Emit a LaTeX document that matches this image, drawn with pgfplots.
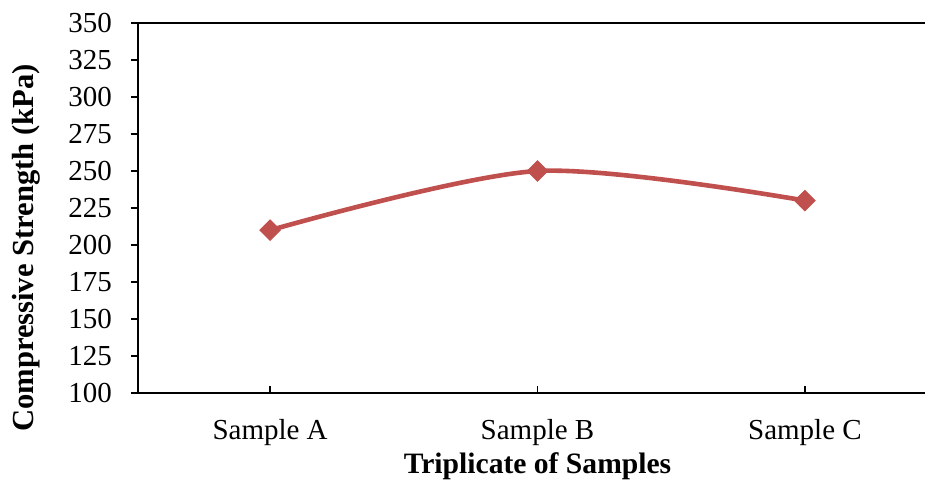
\documentclass[border=0pt]{standalone}
\usepackage{fontspec}
\setmainfont{Liberation Serif}
\usepackage{pgfplots}
\pgfplotsset{compat=1.18}
\definecolor{serieRed}{HTML}{C0504D}

\begin{document}
\fontsize{14.5}{17}\selectfont
\begin{tikzpicture}
\path[use as bounding box] (-69pt,-44pt) rectangle (393.5pt,196.5pt);
\begin{axis}[
  at={(0,0)}, anchor=south west,
  scale only axis,
  width=393.5pt, height=185pt,
  xmin=-0.494, xmax=2.449,
  ymin=100, ymax=350,
  ytick={100,125,...,350},
  xtick={0,1,2},
  xticklabels={Sample A,Sample B,Sample C},
  axis x line*=bottom,
  axis y line*=left,
  axis line style={line width=1.2pt, -},
  xtick align=inside,
  ytick align=outside,
  major tick length=3.5pt,
  tick style={line width=0.8pt, black},
  /pgf/number format/assume math mode=true,
  yticklabel style={font=\fontsize{14.5}{17}\selectfont, anchor=east, xshift=-4.5pt},
  xticklabel style={font=\fontsize{14.5}{17}\selectfont, anchor=base, yshift=-23pt},
  ylabel={\bfseries Compressive Strength (kPa)},
  ylabel style={at={(axis description cs:0,0.5)}, anchor=center, rotate=0, xshift=-20pt, yshift=56pt, font=\fontsize{15.3}{18}\selectfont},
  xlabel={\bfseries Triplicate of Samples},
  xlabel style={at={(axis cs:1,100)}, anchor=base, yshift=-40pt, font=\fontsize{14.8}{17}\selectfont},
  clip=false,
]
\addplot[serieRed, line width=2.3pt, smooth, tension=0.5,
  mark=square*, mark size=3.6pt,
  mark options={rotate=45, line width=0.5pt, fill=serieRed}]
  coordinates {(0,210) (1,250) (2,230)};
\draw[line width=1.2pt] (rel axis cs:0,1) -- (rel axis cs:1,1);
\end{axis}
\end{tikzpicture}
\end{document}
